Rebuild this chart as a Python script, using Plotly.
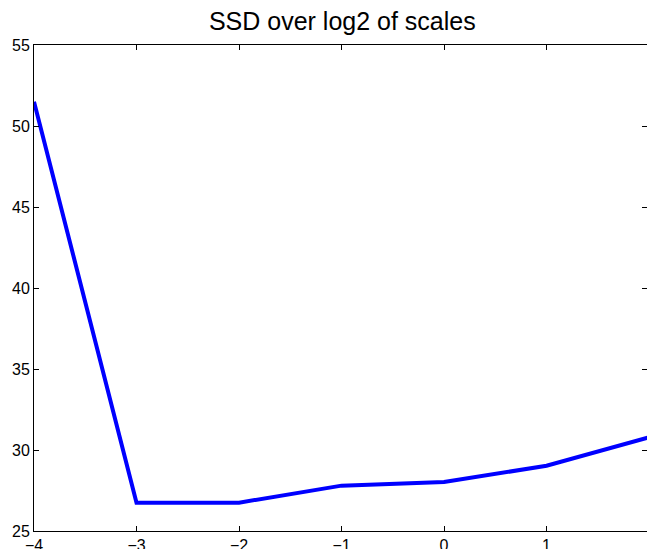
import plotly.graph_objects as go

# log2 of scale and the sum of squared differences at each scale
log2_scale = [-4, -3, -2, -1, 0, 1, 2]
ssd = [51.5, 26.75, 26.75, 27.8, 28.02, 29.03, 30.78]

x_ticks = [-4, -3, -2, -1, 0, 1, 2]
y_ticks = [25, 30, 35, 40, 45, 50, 55]

font = "Liberation Sans, Arial, Helvetica, sans-serif"

fig = go.Figure()
fig.add_trace(go.Scatter(
    x=log2_scale, y=ssd, mode="lines",
    line=dict(color="#0000ff", width=4),
    showlegend=False, hoverinfo="skip",
))
# invisible trace carrying the right-hand tick marks
fig.add_trace(go.Scatter(
    x=log2_scale, y=ssd, yaxis="y2", mode="lines",
    line=dict(width=0), opacity=0, showlegend=False, hoverinfo="skip",
))

fig.update_layout(
    width=647, height=549,
    margin=dict(l=34, r=0, t=45, b=18, autoexpand=False),
    paper_bgcolor="white", plot_bgcolor="white",
    font=dict(family=font, size=16, color="black"),
    title=dict(text="SSD over log2 of scales", x=0.503, xref="paper",
               xanchor="center", y=0.962, yanchor="middle",
               font=dict(family=font, size=25, color="black")),
    xaxis=dict(
        range=[-4, 1.98], tickvals=x_ticks, automargin=False,
        ticks="inside", ticklen=5, tickwidth=1, tickcolor="black",
        showline=True, linecolor="black", linewidth=1, mirror="ticks",
        showgrid=False, zeroline=False, ticklabelstandoff=0,
    ),
    yaxis=dict(
        range=[25, 55], tickvals=y_ticks, automargin=False,
        ticks="inside", ticklen=5, tickwidth=1, tickcolor="black",
        showline=True, linecolor="black", linewidth=1, mirror=False,
        showgrid=False, zeroline=False, ticklabelstandoff=0,
    ),
    yaxis2=dict(
        range=[25, 55], tickvals=y_ticks, overlaying="y", side="right",
        automargin=False,
        ticks="inside", ticklen=5, tickwidth=1, tickcolor="black",
        showticklabels=False, showline=False, showgrid=False, zeroline=False,
    ),
)

fig.write_html("out.html")
